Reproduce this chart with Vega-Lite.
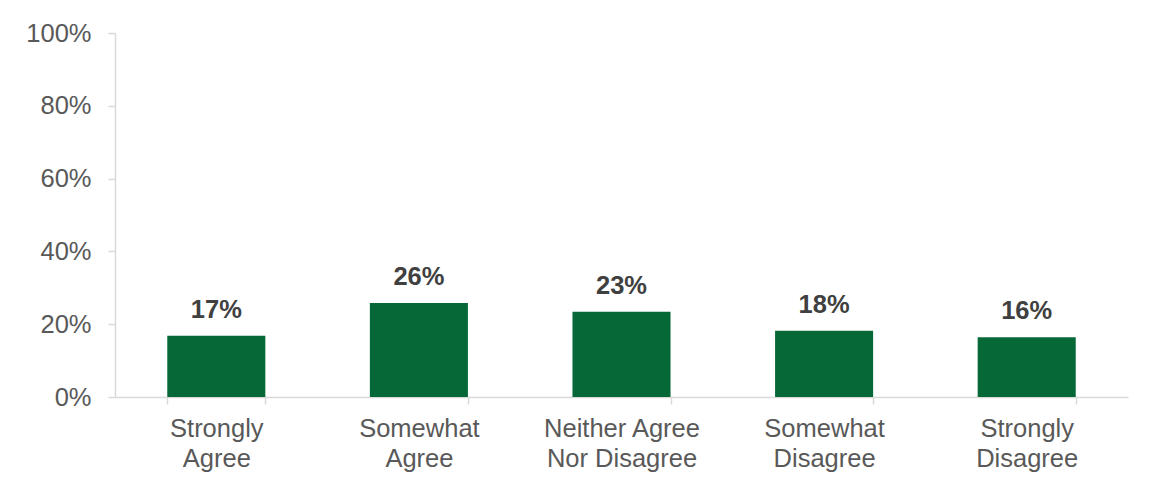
{
  "$schema": "https://vega.github.io/schema/vega-lite/v6.json",
  "autosize": {"type": "none"},
  "width": 1013,
  "height": 364,
  "padding": {"left": 115, "top": 33, "right": 25, "bottom": 90},
  "background": "white",
  "config": {"view": {"stroke": null}, "font": "Liberation Sans"},
  "data": {
    "values": [
      {"response": "Strongly Agree", "share": 0.168},
      {"response": "Somewhat Agree", "share": 0.258},
      {"response": "Neither Agree Nor Disagree", "share": 0.234},
      {"response": "Somewhat Disagree", "share": 0.182},
      {"response": "Strongly Disagree", "share": 0.164}
    ]
  },
  "encoding": {
    "x": {
      "field": "response",
      "type": "nominal",
      "sort": null,
      "scale": {"paddingInner": 0.516, "paddingOuter": 0.258},
      "axis": {
        "title": null,
        "labelAngle": 0,
        "labelFont": "Liberation Sans",
        "labelFontSize": 25.5,
        "labelColor": "#595959",
        "labelLineHeight": 30,
        "labelPadding": 12,
        "labelExpr": "!isValid(datum.value) ? '' : datum.value == 'Neither Agree Nor Disagree' ? ['Neither Agree', 'Nor Disagree'] : split(datum.value, ' ')",
        "domainColor": "#d9d9d9",
        "domainWidth": 1.5,
        "tickColor": "#d9d9d9",
        "tickWidth": 1.5,
        "tickSize": 7,
        "tickBand": "extent",
        "grid": false
      }
    },
    "y": {
      "field": "share",
      "type": "quantitative",
      "scale": {"domain": [0, 1], "nice": false},
      "axis": {
        "title": null,
        "values": [0, 0.2, 0.4, 0.6, 0.8, 1],
        "format": ".0%",
        "labelFont": "Liberation Sans",
        "labelFontSize": 25.5,
        "labelColor": "#595959",
        "labelPadding": 17,
        "domainColor": "#d9d9d9",
        "domainWidth": 1.5,
        "tickColor": "#d9d9d9",
        "tickWidth": 1.5,
        "tickSize": 7,
        "grid": false
      }
    }
  },
  "layer": [
    {"mark": {"type": "bar", "color": "#076837"}},
    {
      "mark": {
        "type": "text",
        "baseline": "alphabetic",
        "dy": -18,
        "fontSize": 25.5,
        "fontWeight": "bold",
        "font": "Liberation Sans",
        "color": "#404040"
      },
      "encoding": {
        "text": {"field": "share", "type": "quantitative", "format": ".0%"}
      }
    }
  ]
}
